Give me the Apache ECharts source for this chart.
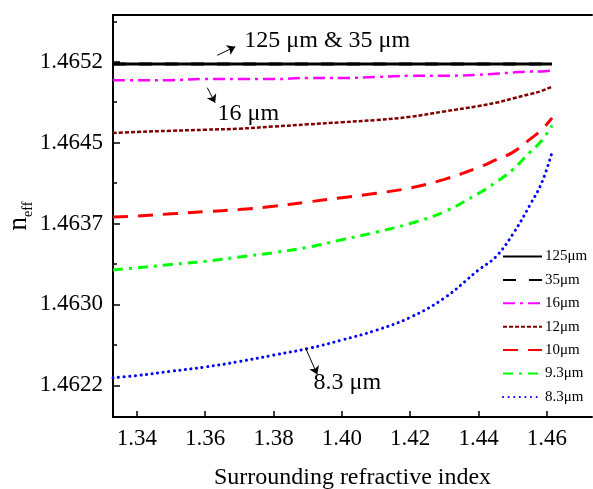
<!DOCTYPE html>
<html>
<head>
<meta charset="utf-8">
<script src="https://cdn.jsdelivr.net/npm/echarts@6.0.0/dist/echarts.min.js"></script>
<style>
  html, body { margin: 0; padding: 0; background: #fff; overflow: hidden; }
  #chart { width: 593px; height: 489px; }
</style>
</head>
<body>
<div id="chart"></div>
<script>
// surrounding refractive index (x) and effective index per cladding diameter
const refIndex = [1.333, 1.34, 1.35, 1.36, 1.37, 1.38, 1.39, 1.40, 1.41, 1.42, 1.43, 1.44, 1.445, 1.45, 1.455, 1.4585, 1.4615];
const n125 = [1.46518, 1.46518, 1.46518, 1.46518, 1.46518, 1.46518, 1.46518, 1.46518, 1.46518, 1.46518, 1.46518, 1.46518, 1.46518, 1.46518, 1.46518, 1.46518, 1.46518];
const n35 = [1.46518, 1.46518, 1.46518, 1.46518, 1.46518, 1.46518, 1.46518, 1.46518, 1.46518, 1.46518, 1.46518, 1.46518, 1.46518, 1.46518, 1.46518, 1.46518, 1.46518];
const n16 = [1.46503, 1.46503, 1.46503, 1.46504, 1.46504, 1.46504, 1.46505, 1.46505, 1.46506, 1.46507, 1.46507, 1.46508, 1.46509, 1.4651, 1.46511, 1.46511, 1.46512];
const n12 = [1.46454, 1.46455, 1.46456, 1.46457, 1.46458, 1.4646, 1.46462, 1.46464, 1.46466, 1.46469, 1.46474, 1.46479, 1.46482, 1.46486, 1.4649, 1.46493, 1.46497];
const n10 = [1.46376, 1.46377, 1.46379, 1.46381, 1.46383, 1.46386, 1.4639, 1.46394, 1.46398, 1.46403, 1.46411, 1.46422, 1.46429, 1.46436, 1.46448, 1.46457, 1.46468];
const n9_3 = [1.46327, 1.46329, 1.46332, 1.46335, 1.46339, 1.46343, 1.46348, 1.46355, 1.46362, 1.4637, 1.46381, 1.46398, 1.46408, 1.4642, 1.46436, 1.46447, 1.46461];
const n8_3 = [1.46227, 1.46229, 1.46233, 1.46237, 1.46242, 1.46248, 1.46254, 1.46262, 1.46271, 1.46283, 1.46301, 1.46327, 1.46339, 1.4636, 1.46387, 1.46408, 1.46436];

const seriesNames = ["125μm", "35μm", "16μm", "12μm", "10μm", "9.3μm", "8.3μm"];

const xTicks = [1.34, 1.36, 1.38, 1.40, 1.42, 1.44, 1.46];
const yTicks = [1.4622, 1.46295, 1.4637, 1.46445, 1.4652];
const yTickLabels = ["1.4622", "1.4630", "1.4637", "1.4645", "1.4652"];
const yMinorTicks = [1.462575, 1.463325, 1.464075, 1.464825, 1.465575];

const FONT = "Liberation Serif";
const X_MIN = 1.333;
const X_MAX = 1.4732;

const toPairs = (arr) => refIndex.map((x, i) => [x, arr[i]]);

const lineSeries = (name, data, color, width, type, extra) => Object.assign({
  name: name,
  type: "line",
  data: toPairs(data),
  smooth: 0.4,
  symbol: "none",
  lineStyle: { color: color, width: width, type: type },
  itemStyle: { color: color },
  z: 3,
}, extra || {});

const labelPoint = (x, y, text) => ({
  coord: [x, y],
  symbol: "circle",
  symbolSize: 0,
  label: {
    show: true,
    position: "inside",
    formatter: text,
    color: "#000",
    fontFamily: FONT,
    fontSize: 24,
  },
});

const arrow = (x1, y1, x2, y2) => [
  { coord: [x1, y1], symbol: "none" },
  { coord: [x2, y2], symbol: "arrow" },
];

const chart = echarts.init(document.getElementById("chart"), null, { renderer: "canvas" });

const option = {
  backgroundColor: "#fff",
  animation: false,
  grid: {
    left: 113,
    right: 1,
    top: 15,
    bottom: 72,
    outerBoundsMode: "none",
    show: false,
  },
  legend: {
    orient: "vertical",
    left: 502,
    top: 249,
    padding: 0,
    itemWidth: 39,
    itemHeight: 14,
    itemGap: 8.4,
    data: seriesNames,
    itemStyle: { opacity: 0 },
    textStyle: { fontFamily: FONT, fontSize: 15, lineHeight: 14, color: "#000", padding: [0, 0, 0, -2] },
  },
  xAxis: [
    {
      type: "value",
      min: X_MIN,
      max: X_MAX,
      name: "Surrounding refractive index",
      nameLocation: "middle",
      nameGap: 49,
      nameTextStyle: { fontFamily: FONT, fontSize: 24, color: "#000" },
      splitLine: { show: false },
      axisLine: { onZero: false, lineStyle: { color: "#000", width: 2 } },
      axisTick: { inside: true, length: 6, customValues: xTicks, lineStyle: { color: "#000", width: 1.5 } },
      axisLabel: {
        customValues: xTicks,
        margin: 10,
        formatter: (v) => v.toFixed(2),
        fontFamily: FONT,
        fontSize: 23,
        color: "#000",
      },
    },
    {
      type: "value",
      position: "top",
      min: X_MIN,
      max: X_MAX,
      splitLine: { show: false },
      axisLine: { onZero: false, lineStyle: { color: "#000", width: 2 } },
      axisTick: { show: false },
      axisLabel: { show: false },
    },
  ],
  yAxis: [
    {
      type: "value",
      min: 1.461906,
      max: 1.465634,
      name: "{n|n}{s|eff}",
      nameLocation: "middle",
      nameGap: 78,
      nameMoveOverlap: false,
      nameTextStyle: {
        rich: {
          n: { fontFamily: FONT, fontSize: 27, color: "#000", lineHeight: 30, verticalAlign: "top" },
          s: { fontFamily: FONT, fontSize: 14, color: "#000", lineHeight: 30, verticalAlign: "bottom", padding: [3, 0, 0, 0] },
        },
      },
      splitLine: { show: false },
      axisLine: { onZero: false, lineStyle: { color: "#000", width: 2 } },
      axisTick: { inside: true, length: 7, customValues: yTicks, lineStyle: { color: "#000", width: 1.5 } },
      axisLabel: {
        customValues: yTicks,
        margin: 10,
        formatter: (v) => yTickLabels[yTicks.findIndex((t) => Math.abs(t - v) < 1e-7)],
        fontFamily: FONT,
        fontSize: 23,
        color: "#000",
      },
    },
    {
      type: "value",
      position: "left",
      min: 1.461906,
      max: 1.465634,
      splitLine: { show: false },
      axisLine: { show: false },
      axisLabel: { show: false },
      axisTick: { inside: true, length: 4, customValues: yMinorTicks, lineStyle: { color: "#000", width: 1.5 } },
    },
  ],
  series: [
    lineSeries(seriesNames[0], n125, "#000000", 3, "solid"),
    lineSeries(seriesNames[1], n35, "#000000", 3, [13, 13], {
      markLine: {
        silent: true,
        symbolSize: 8,
        label: { show: false },
        lineStyle: { color: "#000", width: 1, type: "solid" },
        data: [
          arrow(1.3635, 1.46526, 1.3688, 1.46534),
          arrow(1.3606, 1.46496, 1.3629, 1.46482),
          arrow(1.3893, 1.46255, 1.3928, 1.4623),
        ],
      },
      markPoint: {
        silent: true,
        data: [
          labelPoint(1.3957, 1.4654, "125 μm & 35 μm"),
          labelPoint(1.3726, 1.46472, "16 μm"),
          labelPoint(1.4016, 1.46222, "8.3 μm"),
        ],
      },
    }),
    lineSeries(seriesNames[2], n16, "#ff00ff", 2.5, [12, 5, 3, 5]),
    lineSeries(seriesNames[3], n12, "#800000", 2.5, [4, 2]),
    lineSeries(seriesNames[4], n10, "#ff0000", 3, [15, 10]),
    lineSeries(seriesNames[5], n9_3, "#00ff00", 3, [10, 6, 3, 6]),
    lineSeries(seriesNames[6], n8_3, "#0000ff", 3, [0.1, 5.5], { lineStyle: { color: "#0000ff", width: 3, type: [0.1, 5.5], cap: "round" } }),
  ],
};

chart.setOption(option);
</script>
</body>
</html>
